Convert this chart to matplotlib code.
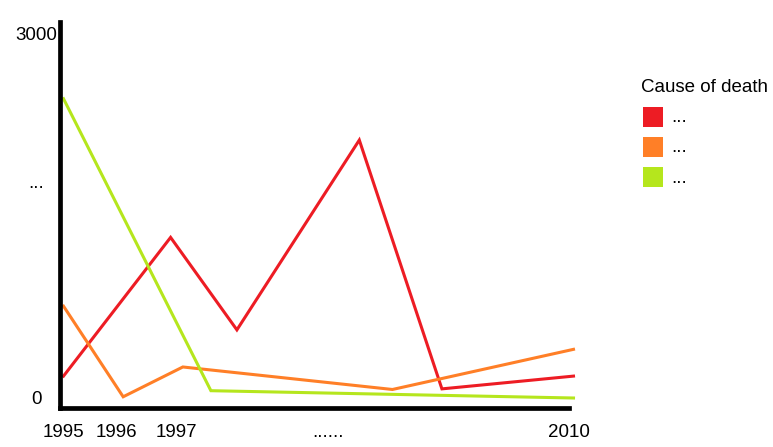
import matplotlib
matplotlib.use('Agg')
import matplotlib.pyplot as plt
from matplotlib.patches import Rectangle

W, H = 773, 447
plt.rcParams['font.family'] = ['Liberation Sans', 'DejaVu Sans']
FS = 13.5

# ---- data ----
x_tick_pos = [0, 10.4, 22.1, 51.9, 99.1]
x_tick_labels = ['1995', '1996', '1997', '......', '2010']
y_tick_pos = [0, 1780, 3000]
y_tick_labels = ['0', '...', '3000']

legend_title = 'Cause of death'
series_names = ['...', '...', '...']
colors = ['#ED1C24', '#FF7F27', '#B5E61D']

red_x = [0, 21, 34, 58, 74.2, 100]
red_y = [180, 1320, 560, 2120, 75, 180]
orange_x = [0, 11.7, 23.4, 64.5, 100]
orange_y = [755, 10, 255, 70, 400]
green_x = [0, 28.9, 100]
green_y = [2460, 60, 0]

series = [(red_x, red_y), (orange_x, orange_y), (green_x, green_y)]

# ---- figure ----
fig = plt.figure(figsize=(W / 100, H / 100), dpi=100)
left, right, top, bottom = 60, 576, 21.7, 408
ax = fig.add_axes([left / W, (H - bottom) / H, (right - left) / W, (bottom - top) / H])

for (xs, ys), c in zip(series, colors):
    ax.plot(xs, ys, color=c, linewidth=2.2, solid_joinstyle='miter', clip_on=False)

px_per_x = 5.1
x0_px = 63.5
ax.set_xlim((left - x0_px) / px_per_x, (right - x0_px) / px_per_x)
px_per_y = 365 / 3000
y0_px = 398
ax.set_ylim((y0_px - bottom) / px_per_y, (y0_px - top) / px_per_y)

for s in ['top', 'right']:
    ax.spines[s].set_visible(False)
for s in ['left', 'bottom']:
    ax.spines[s].set_linewidth(3.4)
    ax.spines[s].set_color('black')
    ax.spines[s].set_capstyle('projecting')
ax.spines['bottom'].set_bounds(ax.get_xlim()[0], (569.3 - x0_px) / px_per_x)

ax.set_xticks(x_tick_pos)
ax.set_xticklabels(x_tick_labels, fontsize=FS)
ax.set_yticks(y_tick_pos)
ax.set_yticklabels(y_tick_labels, fontsize=FS, ha='center')
ax.tick_params(axis='x', length=0, pad=11.5)
ax.tick_params(axis='y', length=0, pad=17)

# ---- legend ----
def fx(px):
    return px / W

def fy(py):
    return 1 - py / H

fig.text(fx(641), fy(92), legend_title, fontsize=FS, va='baseline', ha='left')
tops = [107, 137, 167]
baselines = [122, 152, 183]
for t, b, c, name in zip(tops, baselines, colors, series_names):
    fig.add_artist(Rectangle((fx(643), fy(t + 20)), 20 / W, 20 / H,
                             transform=fig.transFigure, color=c, lw=0))
    fig.text(fx(671), fy(b), name, fontsize=FS, va='baseline', ha='left')

fig.savefig('out.png', dpi=100)
